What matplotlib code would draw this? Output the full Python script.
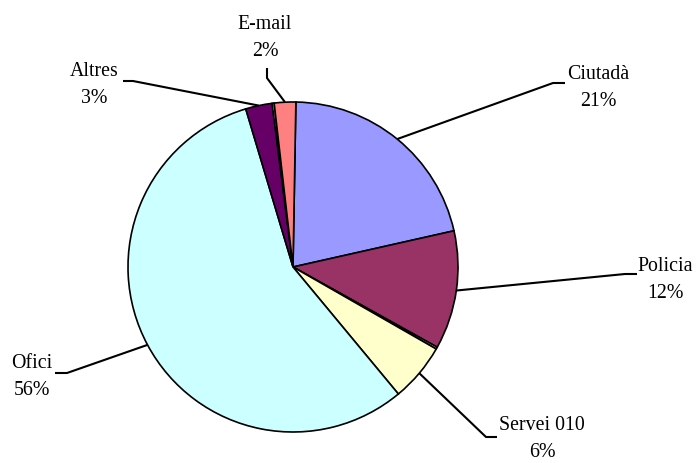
import numpy as np
from matplotlib import pyplot as plt

# slice data (clockwise from the top); the unnamed ones are tiny unlabelled slices
categories = ["Ciutadà", "Policia", "", "Servei 010", "Ofici", "Altres", "", "E-mail"]
values = [21.2, 11.6, 0.2, 5.7, 56.4, 2.6, 0.2, 2.1]
colors = ["#9999FF", "#993366", "#FFFFFF", "#FFFFCC", "#CCFFFF", "#660066", "#FFFFFF", "#FF8080"]

# label layout in pixels (y from the top): elbow, end of leader, text centre
label_layout = {
    "Ciutadà": ((553, 83), (565, 83), (598, 88)),
    "Policia": ((625, 274), (637, 274), (665, 280)),
    "Servei 010": ((486, 437), (497, 437), (542, 439)),
    "Ofici": ((67, 373), (55, 373), (32, 377)),
    "Altres": ((133, 81), (123, 81), (94, 85)),
    "E-mail": ((267, 78), (267, 68), (265, 38)),
}

W, H = 698, 463
cx, cy, radius = 293, H - 267, 165

plt.rcParams['font.family'] = ['Liberation Serif', 'DejaVu Serif']

fig = plt.figure(figsize=(W / 100, H / 100), dpi=100)
ax = fig.add_axes([0, 0, 1, 1])
ax.set_xlim(0, W)
ax.set_ylim(0, H)
ax.set_aspect('equal')
ax.axis('off')

wedges, _ = ax.pie(values, colors=colors, center=(cx, cy), radius=radius,
                   startangle=89, counterclock=False,
                   wedgeprops={'edgecolor': 'black', 'linewidth': 1.2})
ax.set_xlim(0, W)
ax.set_ylim(0, H)

total = sum(values)
for wedge, name, value in zip(wedges, categories, values):
    if not name:
        continue
    mid = np.deg2rad((wedge.theta1 + wedge.theta2) / 2)
    start = (cx + radius * np.cos(mid), cy + radius * np.sin(mid))
    elbow, end, text_pos = label_layout[name]
    xs = [start[0], elbow[0], end[0]]
    ys = [start[1], H - elbow[1], H - end[1]]
    ax.plot(xs, ys, color='black', linewidth=1.5, solid_capstyle='butt')
    pct = value / total * 100
    ax.text(text_pos[0], H - text_pos[1], f"{name}\n{pct:.0f}%",
            ha='center', va='center', fontsize=14.3, linespacing=1.6)

fig.savefig("out.png", dpi=100)
